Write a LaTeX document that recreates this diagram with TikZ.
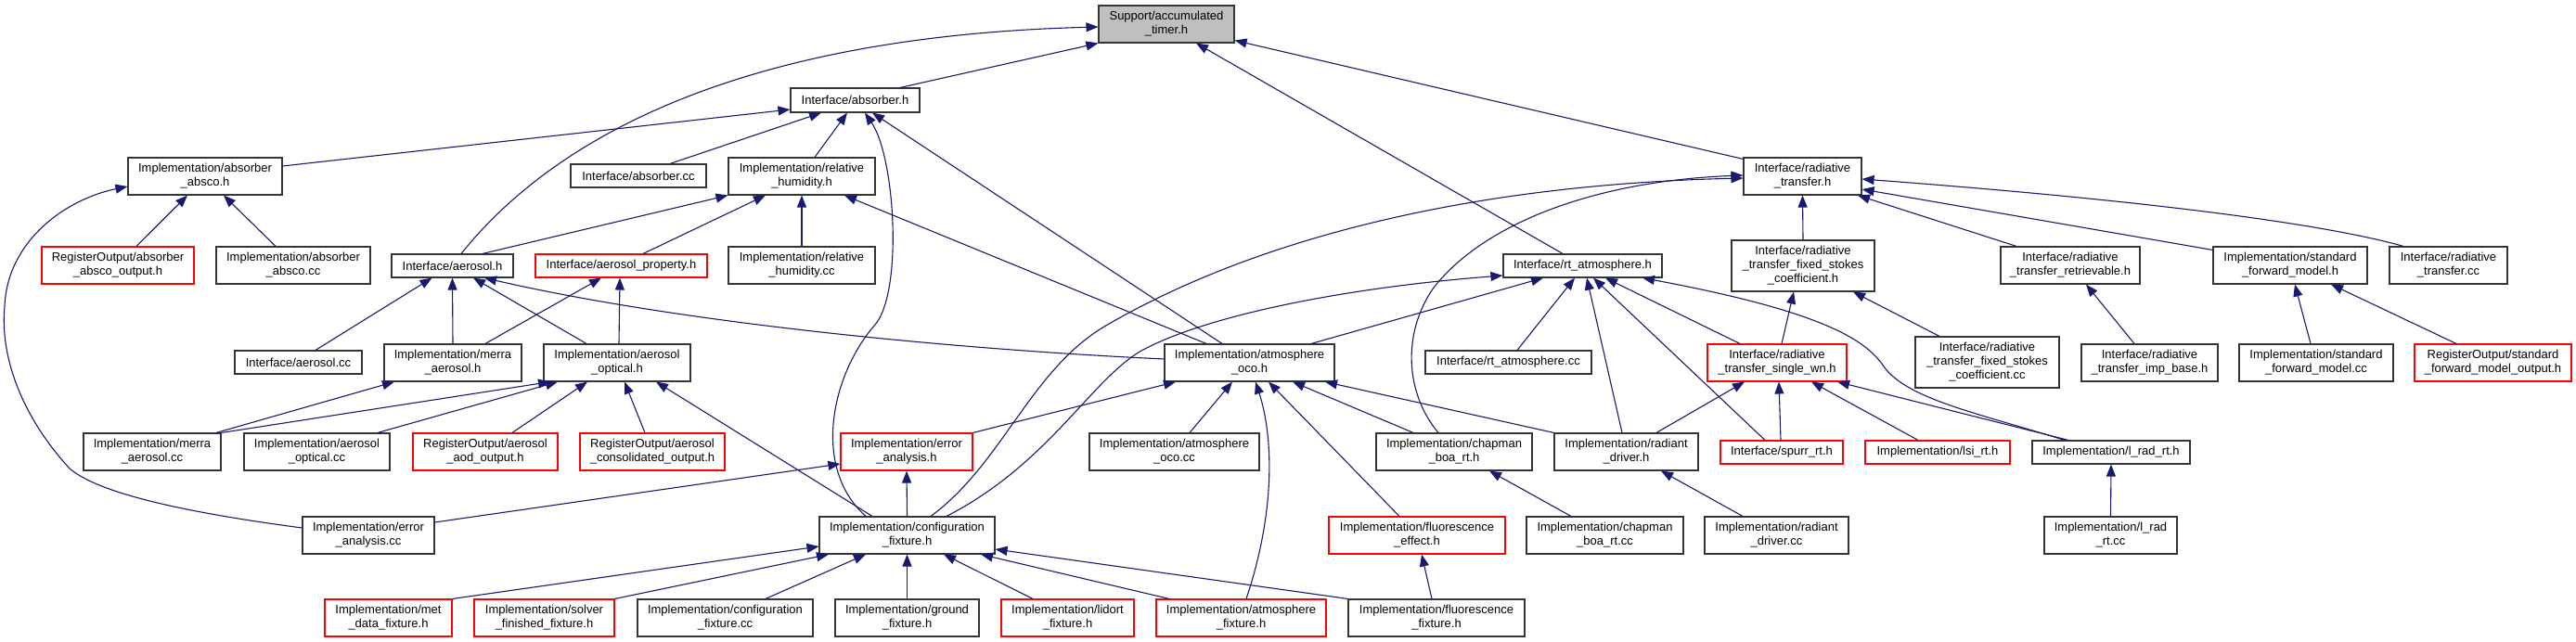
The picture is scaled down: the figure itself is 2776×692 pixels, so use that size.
\documentclass[tikz,border=0pt]{standalone}
\usepackage{fontspec}
\setmainfont{Liberation Sans}
\usetikzlibrary{arrows.meta}
\definecolor{edgeblue}{HTML}{191970}
\definecolor{boxgray}{HTML}{353535}
\definecolor{rootgray}{HTML}{BFBFBF}
\definecolor{boxred}{HTML}{FF0000}
\tikzset{
  box/.style={draw=boxgray, fill=white, line width=1.1pt, inner sep=0pt, align=center, font=\fontsize{13}{15}\selectfont},
  redbox/.style={box, draw=boxred},
  rootbox/.style={box, fill=rootgray},
  dep/.style={draw=edgeblue, line width=1.1pt, -{Triangle[length=13pt,width=10pt]}, edgeblue}
}
\begin{document}
\begin{tikzpicture}[x=1pt,y=-1pt]
\useasboundingbox (0,0) rectangle (2776,692);
% nodes
\node[rootbox, minimum width=146pt, minimum height=40pt] (timer) at (1257,26) {Support/accumulated\\\_timer.h};
\node[box, minimum width=139pt, minimum height=26pt] (absh) at (921.5,108) {Interface/absorber.h};
\node[box, minimum width=166pt, minimum height=40pt] (absco) at (221,190) {Implementation/absorber\\\_absco.h};
\node[redbox, minimum width=164pt, minimum height=40pt] (abscoout) at (127,286) {RegisterOutput/absorber\\\_absco\_output.h};
\node[box, minimum width=166pt, minimum height=40pt] (abscocc) at (316,286) {Implementation/absorber\\\_absco.cc};
\node[box, minimum width=146pt, minimum height=25pt] (abscc) at (688,189.5) {Interface/absorber.cc};
\node[box, minimum width=158pt, minimum height=40pt] (relh) at (864,190) {Implementation/relative\\\_humidity.h};
\node[box, minimum width=158pt, minimum height=40pt] (relcc) at (864,286) {Implementation/relative\\\_humidity.cc};
\node[box, minimum width=131pt, minimum height=25pt] (aer) at (487.5,286.5) {Interface/aerosol.h};
\node[redbox, minimum width=185pt, minimum height=25pt] (aerprop) at (669.5,286.5) {Interface/aerosol\_property.h};
\node[box, minimum width=171pt, minimum height=25pt] (rtatm) at (1705.5,286.5) {Interface/rt\_atmosphere.h};
\node[box, minimum width=127pt, minimum height=40pt] (radt) at (1942.5,190) {Interface/radiative\\\_transfer.h};
\node[box, minimum width=154pt, minimum height=55pt] (fixs) at (1943,286.5) {Interface/radiative\\\_transfer\_fixed\_stokes\\\_coefficient.h};
\node[box, minimum width=150pt, minimum height=40pt] (retr) at (2231,286) {Interface/radiative\\\_transfer\_retrievable.h};
\node[box, minimum width=166pt, minimum height=40pt] (sfmh) at (2468,286) {Implementation/standard\\\_forward\_model.h};
\node[box, minimum width=127pt, minimum height=40pt] (radtcc) at (2638.5,286) {Interface/radiative\\\_transfer.cc};
\node[box, minimum width=137pt, minimum height=25pt] (aercc) at (321.5,390.5) {Interface/aerosol.cc};
\node[box, minimum width=148pt, minimum height=40pt] (merrah) at (488,391) {Implementation/merra\\\_aerosol.h};
\node[box, minimum width=148pt, minimum height=40pt] (merracc) at (164,487) {Implementation/merra\\\_aerosol.cc};
\node[box, minimum width=157pt, minimum height=40pt] (aoptcc) at (341.5,487) {Implementation/aerosol\\\_optical.cc};
\node[redbox, minimum width=156pt, minimum height=40pt] (aodout) at (523,487) {RegisterOutput/aerosol\\\_aod\_output.h};
\node[box, minimum width=142pt, minimum height=40pt] (eacc) at (397,577) {Implementation/error\\\_analysis.cc};
\node[redbox, minimum width=137pt, minimum height=40pt] (metdata) at (418.5,666) {Implementation/met\\\_data\_fixture.h};
\node[box, minimum width=158pt, minimum height=40pt] (aopth) at (665,391) {Implementation/aerosol\\\_optical.h};
\node[redbox, minimum width=156pt, minimum height=40pt] (consout) at (703,487) {RegisterOutput/aerosol\\\_consolidated\_output.h};
\node[redbox, minimum width=142pt, minimum height=40pt] (eah) at (977,487) {Implementation/error\\\_analysis.h};
\node[box, minimum width=189pt, minimum height=40pt] (cfgh) at (977.5,577) {Implementation/configuration\\\_fixture.h};
\node[redbox, minimum width=151pt, minimum height=40pt] (solver) at (586.5,666) {Implementation/solver\\\_finished\_fixture.h};
\node[box, minimum width=189pt, minimum height=40pt] (cfgcc) at (781.5,666) {Implementation/configuration\\\_fixture.cc};
\node[box, minimum width=155pt, minimum height=40pt] (ground) at (977.5,666) {Implementation/ground\\\_fixture.h};
\node[box, minimum width=183pt, minimum height=40pt] (atmoh) at (1346.5,391) {Implementation/atmosphere\\\_oco.h};
\node[box, minimum width=183pt, minimum height=40pt] (atmocc) at (1265.5,487) {Implementation/atmosphere\\\_oco.cc};
\node[redbox, minimum width=143pt, minimum height=40pt] (lidort) at (1150.5,666) {Implementation/lidort\\\_fixture.h};
\node[redbox, minimum width=183pt, minimum height=40pt] (atmfix) at (1337.5,666) {Implementation/atmosphere\\\_fixture.h};
\node[box, minimum width=179pt, minimum height=25pt] (rtatmcc) at (1625.5,390.5) {Interface/rt\_atmosphere.cc};
\node[box, minimum width=168pt, minimum height=40pt] (chaph) at (1567,487) {Implementation/chapman\\\_boa\_rt.h};
\node[box, minimum width=155pt, minimum height=40pt] (radh) at (1752.5,487) {Implementation/radiant\\\_driver.h};
\node[redbox, minimum width=190pt, minimum height=40pt] (fleff) at (1527,577) {Implementation/fluorescence\\\_effect.h};
\node[box, minimum width=169pt, minimum height=40pt] (chapcc) at (1729.5,577) {Implementation/chapman\\\_boa\_rt.cc};
\node[box, minimum width=190pt, minimum height=40pt] (flfix) at (1548,666) {Implementation/fluorescence\\\_fixture.h};
\node[redbox, minimum width=150pt, minimum height=40pt] (swn) at (1915,391) {Interface/radiative\\\_transfer\_single\_wn.h};
\node[box, minimum width=155pt, minimum height=55pt] (fixscc) at (2141.5,390.5) {Interface/radiative\\\_transfer\_fixed\_stokes\\\_coefficient.cc};
\node[box, minimum width=147pt, minimum height=40pt] (impbase) at (2316.5,391) {Interface/radiative\\\_transfer\_imp\_base.h};
\node[redbox, minimum width=132pt, minimum height=25pt] (spurr) at (1920,487.5) {Interface/spurr\_rt.h};
\node[redbox, minimum width=156pt, minimum height=25pt] (lsi) at (2088,487.5) {Implementation/lsi\_rt.h};
\node[box, minimum width=170pt, minimum height=25pt] (lrad) at (2275,487.5) {Implementation/l\_rad\_rt.h};
\node[box, minimum width=155pt, minimum height=40pt] (radcc) at (1914.5,577) {Implementation/radiant\\\_driver.cc};
\node[box, minimum width=143pt, minimum height=40pt] (lradcc) at (2274.5,577) {Implementation/l\_rad\\\_rt.cc};
\node[box, minimum width=166pt, minimum height=40pt] (sfmcc) at (2496,391) {Implementation/standard\\\_forward\_model.cc};
\node[redbox, minimum width=169pt, minimum height=40pt] (sfmout) at (2686.5,391) {RegisterOutput/standard\\\_forward\_model\_output.h};
% edges to timer
\draw[dep] ([xshift=48.5pt]absh.north) -- (timer.south west);
\draw[dep] ([xshift=9.5pt]aer.north) .. controls (580,170) and (760,40) .. ([yshift=-3pt]timer.west);
\draw[dep] ([xshift=-21.5pt]rtatm.north) -- ([xshift=32pt]timer.south);
\draw[dep] ([yshift=-2pt]radt.north west) -- ([yshift=3pt]timer.south east);
% to absh
\draw[dep] ([yshift=11pt]absco.east) -- ([yshift=-10pt]absh.west);
\draw[dep] ([xshift=34pt]abscc.north) -- ([xshift=-36.5pt]absh.south);
\draw[dep] ([xshift=14pt]relh.north) -- ([xshift=-8.5pt]absh.south);
\draw[dep] ([xshift=-29.5pt]atmoh.north) -- ([xshift=18.5pt]absh.south);
\draw[dep] ([xshift=-44.5pt]cfgh.north) .. controls (875,505) and (895,405) .. (943,350) .. controls (973,315) and (965,170) .. ([xshift=10.5pt]absh.south);
% to absco
\draw[dep] ([xshift=20pt]abscoout.north) -- ([xshift=-19pt]absco.south);
\draw[dep] ([xshift=-19pt]abscocc.north) -- ([xshift=20pt]absco.south);
\draw[dep] ([yshift=8pt]eacc.west) .. controls (220,555) and (110,535) .. (75,505) .. controls (20,445) and (0,380) .. (5,330) .. controls (8,260) and (70,215) .. ([yshift=-11pt]absco.west);
% to relh
\draw[dep] ([xshift=32.5pt]aer.north) -- (relh.south west);
\draw[dep] ([xshift=23.5pt]aerprop.north) -- ([xshift=-39pt]relh.south);
\draw[dep] (relcc.north) -- (relh.south);
\draw[dep] ([xshift=-46.5pt]atmoh.north) -- ([xshift=46pt]relh.south);
% to aer
\draw[dep] ([xshift=18.5pt]aercc.north) -- ([xshift=-22pt]aer.south);
\draw[dep] (merrah.north) -- (aer.south);
\draw[dep] ([xshift=-33pt]aopth.north) -- ([xshift=22.5pt]aer.south);
\draw[dep] ([yshift=4pt]atmoh.west) .. controls (1000,375) and (720,345) .. ([xshift=34.5pt]aer.south);
% to aerprop
\draw[dep] ([xshift=35pt]merrah.north) -- ([xshift=-21.5pt]aerprop.south);
\draw[dep] ([xshift=2pt]aopth.north) -- ([xshift=-1.5pt]aerprop.south);
% to merrah
\draw[dep] ([xshift=69pt]merracc.north) -- ([xshift=-63pt]merrah.south);
% to aopth
\draw[dep] (merracc.north east) -- ([xshift=-72pt]aopth.south);
\draw[dep] ([xshift=65.5pt]aoptcc.north) -- ([xshift=-64pt]aopth.south);
\draw[dep] ([xshift=29pt]aodout.north) -- ([xshift=-32pt]aopth.south);
\draw[dep] ([xshift=-8pt]consout.north) -- ([xshift=8pt]aopth.south);
\draw[dep] ([xshift=-37.5pt]cfgh.north) -- ([xshift=42pt]aopth.south);
% eah
\draw[dep] (cfgh.north) -- (eah.south);
\draw[dep] ([yshift=14pt]eacc.east) -- ([yshift=-13pt]eah.west);
\draw[dep] (eah.north east) -- ([xshift=-79.5pt]atmoh.south);
% to cfgh
\draw[dep] (metdata.north east) -- ([yshift=-12pt]cfgh.west);
\draw[dep] (solver.north east) -- ([xshift=-84.5pt]cfgh.south);
\draw[dep] ([xshift=43.5pt]cfgcc.north) -- ([xshift=-44.5pt]cfgh.south);
\draw[dep] (ground.north) -- (cfgh.south);
\draw[dep] ([xshift=-37.5pt]lidort.north) -- ([xshift=39.5pt]cfgh.south);
\draw[dep] ([xshift=-77.5pt]atmfix.north) -- ([xshift=79.5pt]cfgh.south);
\draw[dep] (flfix.north west) -- ([yshift=-15pt]cfgh.east);
% to atmoh
\draw[dep] ([xshift=5.5pt]atmfix.north) .. controls (1375,550) and (1372,470) .. ([xshift=6.5pt]atmoh.south);
\draw[dep] ([xshift=16.5pt]atmocc.north) -- ([xshift=-18.5pt]atmoh.south);
\draw[dep] ([xshift=-19pt]fleff.north) -- ([xshift=20.5pt]atmoh.south);
\draw[dep] ([xshift=-44pt]chaph.north) -- ([xshift=46.5pt]atmoh.south);
\draw[dep] (radh.north west) -- ([xshift=81.5pt]atmoh.south);
% to rtatm
\draw[dep] ([xshift=66.5pt]atmoh.north) -- ([xshift=-42.5pt]rtatm.south);
\draw[dep] ([xshift=9.5pt]rtatmcc.north) -- ([xshift=-8.5pt]rtatm.south);
\draw[dep] ([xshift=-4.5pt]radh.north) -- ([xshift=4.5pt]rtatm.south);
\draw[dep] ([xshift=-18pt]spurr.north) -- ([xshift=11.5pt]rtatm.south);
\draw[dep] ([xshift=-40pt]swn.north) -- ([xshift=24.5pt]rtatm.south);
\draw[dep] ([xshift=-50pt]lrad.north) .. controls (2130,445) and (2055,430) .. (2030,395) .. controls (2010,365) and (1960,335) .. ([xshift=64.5pt]rtatm.south);
\draw[dep] ([xshift=42.5pt]cfgh.north) .. controls (1130,500) and (1175,410) .. (1230,378) .. controls (1300,340) and (1450,310) .. ([yshift=-10.5pt]rtatm.west);
% to radt
\draw[dep] ([xshift=25.5pt]cfgh.north) .. controls (1080,500) and (1110,400) .. (1190,352) .. controls (1330,270) and (1550,200) .. ([yshift=-2pt]radt.west);
\draw[dep] ([xshift=-17pt]chaph.north) .. controls (1515,425) and (1510,360) .. (1545,310) .. controls (1600,240) and (1720,195) .. ([yshift=1pt]radt.west);
\draw[dep] (fixs.north) -- (radt.south);
\draw[dep] ([xshift=-58pt]retr.north) -- ([xshift=59.5pt]radt.south);
\draw[dep] ([yshift=-4pt]sfmh.north west) -- ([yshift=-14pt]radt.east);
\draw[dep] ([xshift=-48.5pt]radtcc.north) .. controls (2500,240) and (2300,215) .. ([yshift=-3pt]radt.east);
% to fixs
\draw[dep] ([xshift=5pt]swn.north) -- ([xshift=-10pt]fixs.south);
\draw[dep] ([xshift=-51.5pt]fixscc.north) -- ([xshift=54pt]fixs.south);
% retr, sfmh
\draw[dep] ([xshift=-16.5pt]impbase.north) -- ([xshift=17pt]retr.south);
\draw[dep] ([xshift=-6pt]sfmcc.north) -- ([xshift=5pt]sfmh.south);
\draw[dep] ([xshift=-39.5pt]sfmout.north) -- ([xshift=44pt]sfmh.south);
% to swn
\draw[dep] ([xshift=32.5pt]radh.north) -- ([xshift=-35pt]swn.south);
\draw[dep] ([xshift=-1pt]spurr.north) -- ([xshift=2pt]swn.south);
\draw[dep] ([xshift=-21pt]lsi.north) -- ([xshift=37pt]swn.south);
\draw[dep] ([xshift=-46pt]lrad.north) -- ([xshift=65pt]swn.south);
% others
\draw[dep] (lradcc.north) -- (lrad.south);
\draw[dep] ([xshift=-36.5pt]chapcc.north) -- ([xshift=38pt]chaph.south);
\draw[dep] ([xshift=-36.5pt]radcc.north) -- ([xshift=37.5pt]radh.south);
\draw[dep] ([xshift=-5pt]flfix.north) -- ([xshift=5pt]fleff.south);
\end{tikzpicture}
\end{document}
